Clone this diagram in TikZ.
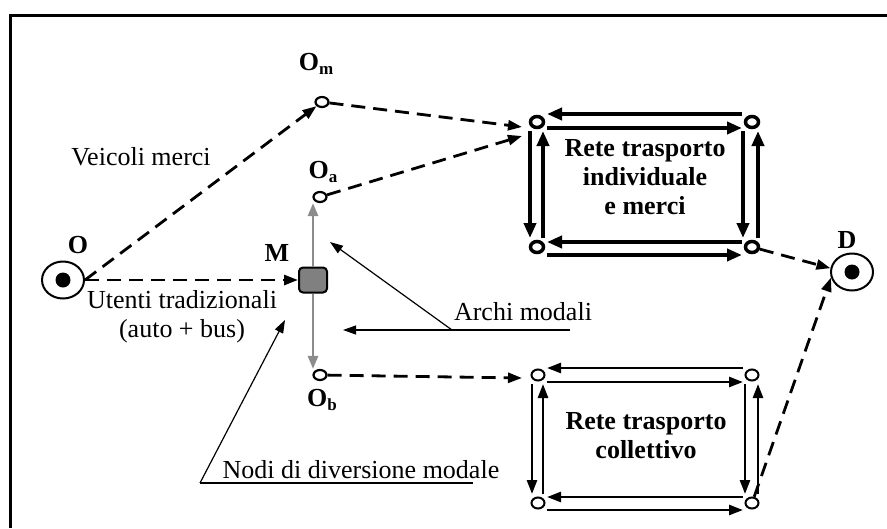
\documentclass[tikz,border=0pt]{standalone}
\usepackage{fontspec}
\setmainfont{Liberation Serif}
\usetikzlibrary{arrows.meta,shapes.geometric,calc}
\pgfdeclarelayer{bg}
\pgfsetlayers{bg,main}
\begin{document}
\begin{tikzpicture}[x=1pt,y=-1pt,
  txt/.style={font=\fontsize{26}{29}\selectfont, inner sep=0pt, align=center},
  lbl/.style={font=\fontsize{26}{29}\selectfont\bfseries, inner sep=0pt},
  bigc/.style={ellipse, draw, line width=2pt, fill=white, minimum width=42pt, minimum height=37pt, inner sep=0pt},
  dot/.style={circle, fill=black, minimum size=15pt, inner sep=0pt},
  smallc/.style={ellipse, draw, line width=2.2pt, fill=white, minimum width=13pt, minimum height=10pt, inner sep=0pt},
  indc/.style={ellipse, draw, line width=3.5pt, fill=white, minimum width=13pt, minimum height=11pt, inner sep=0pt},
  colc/.style={ellipse, draw, line width=2pt, fill=white, minimum width=13pt, minimum height=11pt, inner sep=0pt},
  dsh/.style={line width=2.8pt, dash pattern=on 14pt off 8pt, -{Triangle[length=14pt,width=10pt]}},
  ind/.style={line width=4pt, -{Triangle[length=15pt,width=12pt]}},
  col/.style={line width=2.6pt, -{Triangle[length=14pt,width=10pt]}},
  garr/.style={line width=2.6pt, draw={rgb,255:red,140;green,140;blue,140}, -{Triangle[length=13pt,width=10pt]}},
  thinarr/.style={line width=1.2pt, -{Triangle[length=13pt,width=9pt]}},
  thinl/.style={line width=1.2pt}
]
\useasboundingbox (0,0) rectangle (887,528);
% frame
\draw[line width=3pt] (10,528) -- (10,15.5) -- (887,15.5);

% origin / destination
\node[bigc] (O) at (63,280) {};
\node[dot] (Od) at (O) {};
\node[lbl] (Ol) at (78,245) {O};
\node[bigc] (D) at (852,272) {};
\node[dot] (Dd) at (D) {};
\node[lbl] (Dl) at (847,240) {D};

% modal node
\node[draw, line width=2pt, rounded corners=4pt, fill={rgb,255:red,128;green,128;blue,128},
      minimum width=28pt, minimum height=25pt, inner sep=0pt] (M) at (313,280) {};
\node[lbl] (Ml) at (277,253) {M};

% small origins
\node[smallc] (Om) at (322,102) {};
\node[smallc] (Oa) at (320,197) {};
\node[smallc] (Ob) at (320,375) {};
\node[lbl] (Oml) at (316,64) {O\raisebox{-0.3ex}{\fontsize{17}{17}\selectfont m}};
\node[lbl] (Oal) at (323,172) {O\raisebox{-0.3ex}{\fontsize{17}{17}\selectfont a}};
\node[lbl] (Obl) at (322,400) {O\raisebox{-0.3ex}{\fontsize{17}{17}\selectfont b}};

% individual network corners
\node[indc] (iTL) at (537,122) {};
\node[indc] (iTR) at (752,122) {};
\node[indc] (iBR) at (752,247) {};
\node[indc] (iBL) at (537,247) {};
\node[txt, font=\fontsize{26}{29}\selectfont\bfseries] (iT) at (645,177) {Rete trasporto\\individuale\\e merci};

% collective network corners
\node[colc] (cTL) at (538,375) {};
\node[colc] (cTR) at (752,375) {};
\node[colc] (cBR) at (752,503) {};
\node[colc] (cBL) at (538,503) {};
\node[txt, font=\fontsize{26}{29}\selectfont\bfseries] (cT) at (646,436) {Rete trasporto\\collettivo};

\begin{pgfonlayer}{bg}
% individual network links
\draw[ind] ($(iTL)+(10,6)$) -- ($(iTR)+(-10,6)$);
\draw[ind] ($(iTR)+(-10,-8)$) -- ($(iTL)+(10,-8)$);
\draw[ind] ($(iTR)+(-9,9)$) -- ($(iBR)+(-9,-9)$);
\draw[ind] ($(iBR)+(6,-9)$) -- ($(iTR)+(6,9)$);
\draw[ind] ($(iBR)+(-10,-5)$) -- ($(iBL)+(10,-5)$);
\draw[ind] ($(iBL)+(10,8)$) -- ($(iBR)+(-10,8)$);
\draw[ind] ($(iBL)+(6,-9)$) -- ($(iTL)+(6,9)$);
\draw[ind] ($(iTL)+(-7,9)$) -- ($(iBL)+(-7,-9)$);
% collective network links
\draw[col] ($(cTL)+(9,7)$) -- ($(cTR)+(-9,7)$);
\draw[col] ($(cTR)+(-9,-7)$) -- ($(cTL)+(9,-7)$);
\draw[col] ($(cTR)+(-7,9)$) -- ($(cBR)+(-7,-9)$);
\draw[col] ($(cBR)+(6,-9)$) -- ($(cTR)+(6,9)$);
\draw[col] ($(cBR)+(-9,-6)$) -- ($(cBL)+(9,-6)$);
\draw[col] ($(cBL)+(9,7)$) -- ($(cBR)+(-9,7)$);
\draw[col] ($(cBL)+(5,-9)$) -- ($(cTL)+(5,9)$);
\draw[col] ($(cTL)+(-6,9)$) -- ($(cBL)+(-6,-9)$);
\end{pgfonlayer}

% free ends of dashed arrows
\coordinate (inA) at (522,127);
\coordinate (inB) at (522,136);
\coordinate (inC) at (522,378);

% dashed flows
\draw[dsh] (O.east) -- (Om);
\draw[dsh] (O.east) -- (M.west);
\draw[dsh] (Om) -- (inA);
\draw[dsh] (Oa) -- (inB);
\draw[dsh] (Ob) -- (inC);
\draw[dsh] (iBR) -- (D.170);
\draw[dsh] (cBR) -- (D.195);

% modal arcs
\draw[garr] (M.north) -- (M.north |- Oa.south);
\draw[garr] (M.south) -- (M.south |- Ob.north);

% labels
\node[txt] (vm) at (141,157) {Veicoli merci};
\node[txt] (ut) at (182,317) {Utenti tradizionali\\(auto + bus)};

% Archi modali callout
\node[txt] (am) at (523,312) {Archi modali};
\coordinate (amc) at (452,330);
\coordinate (amend) at (570,330);
\coordinate (amtipA) at (343,330);
\coordinate (amtipB) at (330,242);
\draw[thinl] (amend) -- (amc);
\draw[thinarr] (amc) -- (amtipA);
\draw[thinarr] (amc) -- (amtipB);

% Nodi callout
\node[txt] (nd) at (361,470) {Nodi di diversione modale};
\coordinate (ndc) at (200,483);
\coordinate (ndend) at (473,483);
\coordinate (ndtip) at (285,320);
\draw[thinl] (ndend) -- (ndc);
\draw[thinarr] (ndc) -- (ndtip);
\end{tikzpicture}
\end{document}
